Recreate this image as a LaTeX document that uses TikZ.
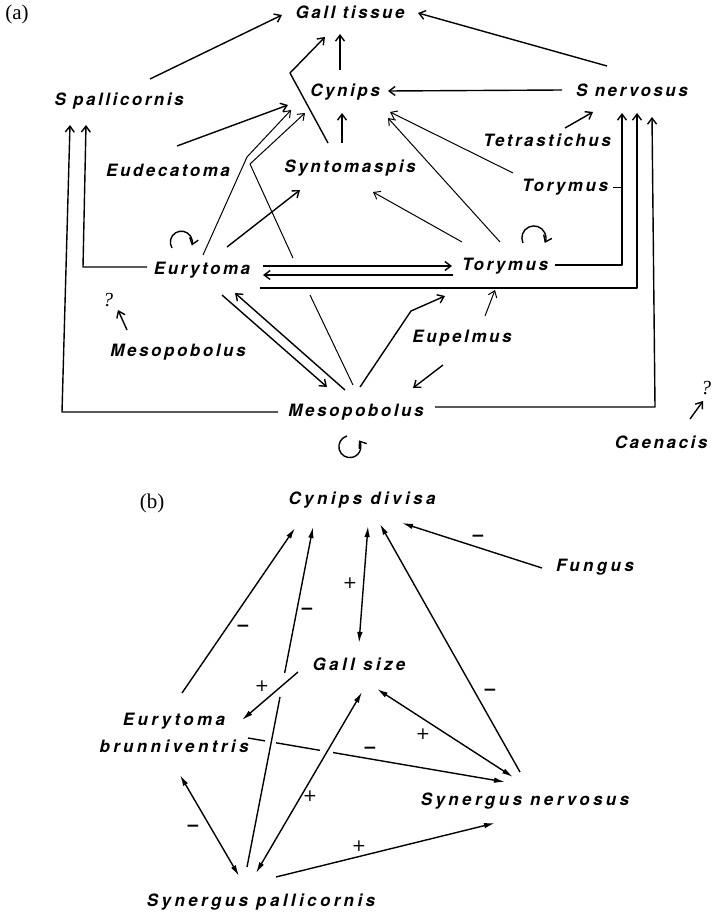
\documentclass[tikz,border=0pt]{standalone}
\usepackage{fontspec}
\usetikzlibrary{arrows.meta,calc}
\newfontfamily\labfontA[LetterSpace=15]{TeX Gyre Heros}
\newfontfamily\labfontB[LetterSpace=20]{TeX Gyre Heros}
\newfontfamily\sgnfont{DejaVu Sans}
\newfontfamily\serfont{Liberation Serif}
\tikzset{
  labA/.style={inner sep=0pt, font={\labfontA\bfseries\itshape\fontsize{17}{19}\selectfont}},
  labB/.style={inner sep=0pt, align=center, font={\labfontB\bfseries\itshape\fontsize{17}{27}\selectfont}},
  qmark/.style={inner sep=0pt, font={\serfont\itshape\fontsize{20}{20}\selectfont}},
  panel/.style={inner sep=0pt, font={\serfont\fontsize{21}{21}\selectfont}},
  sgnplus/.style={inner sep=0pt, font={\sgnfont\fontsize{17}{17}\selectfont}},
  sgnminus/.style={inner sep=0pt, font={\sgnfont\bfseries\fontsize{17}{17}\selectfont}},
  lnA/.style={line width=1.4pt, line join=round},
  thinA/.style={line width=1pt, line join=round},
  arA/.style={lnA, -{Straight Barb[length=6pt,width=9pt]}},
  tarA/.style={thinA, -{Straight Barb[length=6pt,width=9pt]}},
  lnB/.style={line width=1.4pt},
  arB/.style={lnB, -{Latex[length=11pt,width=5.5pt]}},
  darB/.style={lnB, {Latex[length=11pt,width=5.5pt]}-{Latex[length=11pt,width=5.5pt]}},
}
\begin{document}
\begin{tikzpicture}[x=1pt,y=-1pt]
\useasboundingbox (0,0) rectangle (713,915);
% ---------------- panel (a) ----------------
\node[panel] (pa) at (17,14) {(a)};
\node[labA] (gall) at (350,12) {Gall tissue};
\node[labA] (spal) at (119,101) {S pallicornis};
\node[labA] (cyn) at (345,92) {Cynips};
\node[labA] (snerv) at (632,90) {S nervosus};
\node[labA] (eude) at (168,170) {Eudecatoma};
\node[labA] (synt) at (350,168) {Syntomaspis};
\node[labA] (tetr) at (547,140) {Tetrastichus};
\node[labA] (toryA) at (565,187) {Torymus};
\node[labA] (eury) at (202,270) {Eurytoma};
\node[labA] (toryB) at (505,266) {Torymus};
\node[qmark] (qa) at (108,300) {?};
\node[labA] (mesoA) at (178,352) {Mesopobolus};
\node[labA] (eupel) at (462,338) {Eupelmus};
\node[labA] (mesoB) at (356,412) {Mesopobolus};
\node[labA] (caen) at (661,442) {Caenacis};
\node[qmark] (qb) at (706,388) {?};

% named connector end points
\coordinate (a1s) at (150,79);  \coordinate (a1e) at (282,15);
\coordinate (a2s) at (607,66);  \coordinate (a2e) at (418,13);
\coordinate (a3s) at (340,70);  \coordinate (a3e) at (340,34);
\coordinate (a4s) at (342,143); \coordinate (a4e) at (342,113);
\coordinate (a5s) at (328,143); \coordinate (a5m) at (290,73); \coordinate (a5e) at (325,37);
\coordinate (a6s) at (562,90);  \coordinate (a6e) at (388,91);
\coordinate (a7s) at (177,146); \coordinate (a7e) at (288,105);
\coordinate (a8s) at (203,255); \coordinate (a8m) at (247,157); \coordinate (a8e) at (291,110);
\coordinate (a9s) at (293,258); \coordinate (a9m) at (250,164); \coordinate (a9e) at (305,113);
\coordinate (a10s) at (227,247); \coordinate (a10e) at (300,190);
\coordinate (a11s) at (462,242); \coordinate (a11e) at (373,192);
\coordinate (a12s) at (500,242); \coordinate (a12e) at (388,118);
\coordinate (a13s) at (513,173); \coordinate (a13e) at (390,112);
\coordinate (a14s) at (565,128); \coordinate (a14e) at (593,112);
\coordinate (a15s) at (613,187); \coordinate (a15e) at (622,187);
\coordinate (a16s) at (555,265); \coordinate (a16m) at (622,265); \coordinate (a16e) at (622,113);
\coordinate (a17s) at (260,288); \coordinate (a17m) at (637,288); \coordinate (a17e) at (637,113);
\coordinate (a18s) at (435,407); \coordinate (a18m) at (655,407); \coordinate (a18e) at (652,117);
\coordinate (a19s) at (147,267); \coordinate (a19m) at (83,267); \coordinate (a19e) at (86,125);
\coordinate (a20s) at (278,412); \coordinate (a20m) at (62,412); \coordinate (a20e) at (70,125);
\coordinate (a21s) at (263,266); \coordinate (a21e) at (452,266);
\coordinate (a22s) at (453,275); \coordinate (a22e) at (263,275);
\coordinate (a23s) at (222,295); \coordinate (a23e) at (327,387);
\coordinate (a24s) at (345,390); \coordinate (a24e) at (235,293);
\coordinate (a25s) at (353,385); \coordinate (a25e) at (310,295);
\coordinate (a26s) at (360,387); \coordinate (a26m) at (411,311); \coordinate (a26e) at (445,296);
\coordinate (a27s) at (485,316); \coordinate (a27e) at (495,290);
\coordinate (a28s) at (443,365); \coordinate (a28e) at (413,388);
\coordinate (a29s) at (127,330); \coordinate (a29e) at (118,310);
\coordinate (a30s) at (690,419); \coordinate (a30e) at (703,401);
\coordinate (l1) at (172,248);
\coordinate (l2) at (523,243);
\coordinate (l3) at (347,436);

\draw[arA] (a1s) -- (a1e);
\draw[arA] (a2s) -- (a2e);
\draw[arA] (a3s) -- (a3e);
\draw[arA] (a4s) -- (a4e);
\draw[arA] (a5s) -- (a5m) -- (a5e);
\draw[arA] (a6s) -- (a6e);
\draw[arA] (a7s) -- (a7e);
\draw[tarA] (a8s) -- (a8m) -- (a8e);
\draw[tarA] (a9s) -- (a9m) -- (a9e);
\draw[arA] (a10s) -- (a10e);
\draw[tarA] (a11s) -- (a11e);
\draw[tarA] (a12s) -- (a12e);
\draw[tarA] (a13s) -- (a13e);
\draw[arA] (a14s) -- (a14e);
\draw[thinA] (a15s) -- (a15e);
\draw[arA] (a16s) -- (a16m) -- (a16e);
\draw[arA] (a17s) -- (a17m) -- (a17e);
\draw[arA] (a18s) -- (a18m) -- (a18e);
\draw[arA] (a19s) -- (a19m) -- (a19e);
\draw[arA] (a20s) -- (a20m) -- (a20e);
\draw[arA] (a21s) -- (a21e);
\draw[arA] (a22s) -- (a22e);
\draw[arA] (a23s) -- (a23e);
\draw[arA] (a24s) -- (a24e);
\draw[thinA] (a25s) -- (a25e);
\draw[arA] (a26s) -- (a26m) -- (a26e);
\draw[tarA] (a27s) -- (a27e);
\draw[arA] (a28s) -- (a28e);
\draw[arA] (a29s) -- (a29e);
\draw[arA] (a30s) -- (a30e);
\draw[arA] (l1) arc[start angle=212, end angle=-18, radius=11pt];
\draw[arA] (l2) arc[start angle=205, end angle=-25, radius=12pt];
\draw[arA] (l3) arc[start angle=105, end angle=395, radius=11pt];

% ---------------- panel (b) ----------------
\node[panel] (pb) at (152,503) {(b)};
\node[labB] (cdiv) at (362,500) {Cynips divisa};
\node[labB] (fung) at (595,567) {Fungus};
\node[labB] (gsize) at (359,664) {Gall size};
\node[labB] (eurb) at (174,733) {Eurytoma\\brunniventris};
\node[labB] (spalb) at (261,902) {Synergus pallicornis};
\node[labB] (snervb) at (525,801) {Synergus nervosus};

\coordinate (b1s) at (542,568);  \coordinate (b1e) at (402,523);
\coordinate (b2s) at (368,526);  \coordinate (b2e) at (359,643);
\coordinate (b3s) at (182,693);  \coordinate (b3e) at (295,528);
\coordinate (b4s) at (247,867);  \coordinate (b4e) at (313,527);
\coordinate (b5s) at (298,672);  \coordinate (b5e) at (242,720);
\coordinate (b6s) at (239,876);  \coordinate (b6e) at (180,775);
\coordinate (b7s) at (362,692);  \coordinate (b7e) at (256,873);
\coordinate (b8s) at (276,877);  \coordinate (b8e) at (495,823);
\coordinate (b9s) at (513,777);  \coordinate (b9e) at (377,689);
\coordinate (b10s) at (520,772); \coordinate (b10e) at (380,524);
\coordinate (b11s) at (248,738); \coordinate (b11e) at (505,782);

\draw[arB] (b1s) -- (b1e);
\draw[darB] (b2s) -- (b2e);
\draw[arB] (b3s) -- (b3e);
\draw[lnB] (b4s) -- ($(b4s)!0.5!(b4e)$);
\draw[arB] ($(b4s)!0.571!(b4e)$) -- (b4e);
\draw[arB] (b5s) -- (b5e);
\draw[darB] (b6s) -- (b6e);
\draw[darB] (b7s) -- (b7e);
\draw[arB] (b8s) -- (b8e);
\draw[darB] (b9s) -- (b9e);
\draw[arB] (b10s) -- (b10e);
\draw[lnB] (b11s) -- ($(b11s)!0.066!(b11e)$);
\draw[lnB] ($(b11s)!0.109!(b11e)$) -- ($(b11s)!0.28!(b11e)$);
\draw[arB] ($(b11s)!0.331!(b11e)$) -- (b11e);

\node[sgnminus] (s1) at (478,538) {−};
\node[sgnplus] (s2) at (350,583) {+};
\node[sgnminus] (s3) at (243,628) {−};
\node[sgnminus] (s4) at (307,611) {−};
\node[sgnplus] (s5) at (262,686) {+};
\node[sgnminus] (s6) at (193,828) {−};
\node[sgnplus] (s7) at (310,796) {+};
\node[sgnplus] (s8) at (359,846) {+};
\node[sgnplus] (s9) at (423,734) {+};
\node[sgnminus] (s10) at (490,692) {−};
\node[sgnminus] (s11) at (370,750) {−};
\end{tikzpicture}
\end{document}
